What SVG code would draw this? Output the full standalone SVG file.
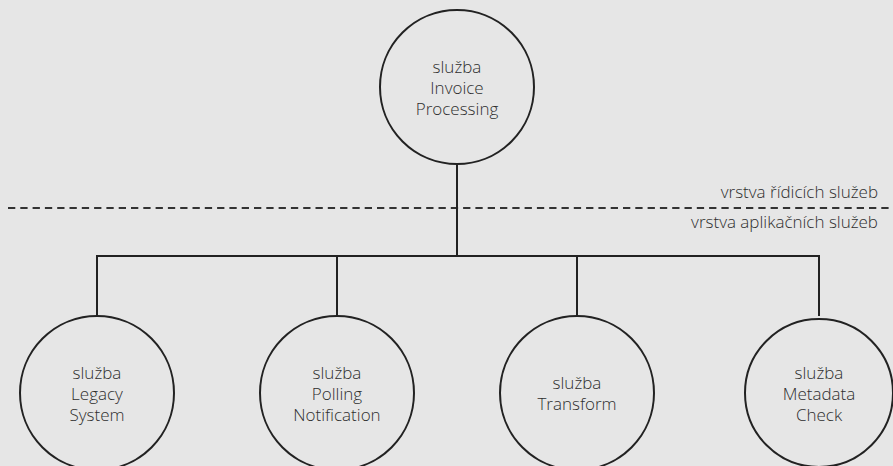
<svg xmlns="http://www.w3.org/2000/svg" width="893" height="466" viewBox="0 0 893 466">
  <style>
    .bg { fill: #e6e6e6; }
    .node circle { fill: #e6e6e6; stroke: #222; stroke-width: 2; }
    .node text, .layer { font-family: "Open Sans", "DejaVu Sans", sans-serif; font-weight: 300; font-size: 17px; fill: #2e2e2e; }
    .node text { text-anchor: middle; }
    .layer { text-anchor: end; }
    .wire { fill: none; stroke: #222; stroke-width: 2; }
    .divider { fill: none; stroke: #333; stroke-width: 2; stroke-dasharray: 7.3 5; }
  </style>
  <rect class="bg" x="0" y="0" width="893" height="466"/>

  <!-- layer divider -->
  <line class="divider" x1="8" y1="208" x2="893" y2="208"/>
  <text class="layer" x="878" y="198">vrstva řídicích služeb</text>
  <text class="layer" x="878" y="228">vrstva aplikačních služeb</text>

  <!-- connectors -->
  <g id="connectors">
    <line class="wire" x1="457" y1="164" x2="457" y2="256"/>
    <line class="wire" x1="97" y1="256" x2="819" y2="256"/>
    <line class="wire" x1="97" y1="255" x2="97" y2="316"/>
    <line class="wire" x1="337" y1="255" x2="337" y2="316"/>
    <line class="wire" x1="577" y1="255" x2="577" y2="316"/>
    <line class="wire" x1="819" y1="255" x2="819" y2="316"/>
  </g>

  <g id="invoice-processing" class="node">
    <circle cx="457" cy="87" r="77"/>
    <text x="457" y="73">služba</text>
    <text x="457" y="94">Invoice</text>
    <text x="457" y="115">Processing</text>
  </g>

  <g id="legacy-system" class="node">
    <circle cx="97" cy="393" r="77"/>
    <text x="97" y="379">služba</text>
    <text x="97" y="400">Legacy</text>
    <text x="97" y="421">System</text>
  </g>

  <g id="polling-notification" class="node">
    <circle cx="337" cy="393" r="77"/>
    <text x="337" y="379">služba</text>
    <text x="337" y="400">Polling</text>
    <text x="337" y="421">Notification</text>
  </g>

  <g id="transform" class="node">
    <circle cx="577" cy="393" r="77"/>
    <text x="577" y="389">služba</text>
    <text x="577" y="410">Transform</text>
  </g>

  <g id="metadata-check" class="node">
    <circle cx="819" cy="393" r="74"/>
    <text x="819" y="379">služba</text>
    <text x="819" y="400">Metadata</text>
    <text x="819" y="421">Check</text>
  </g>
</svg>
